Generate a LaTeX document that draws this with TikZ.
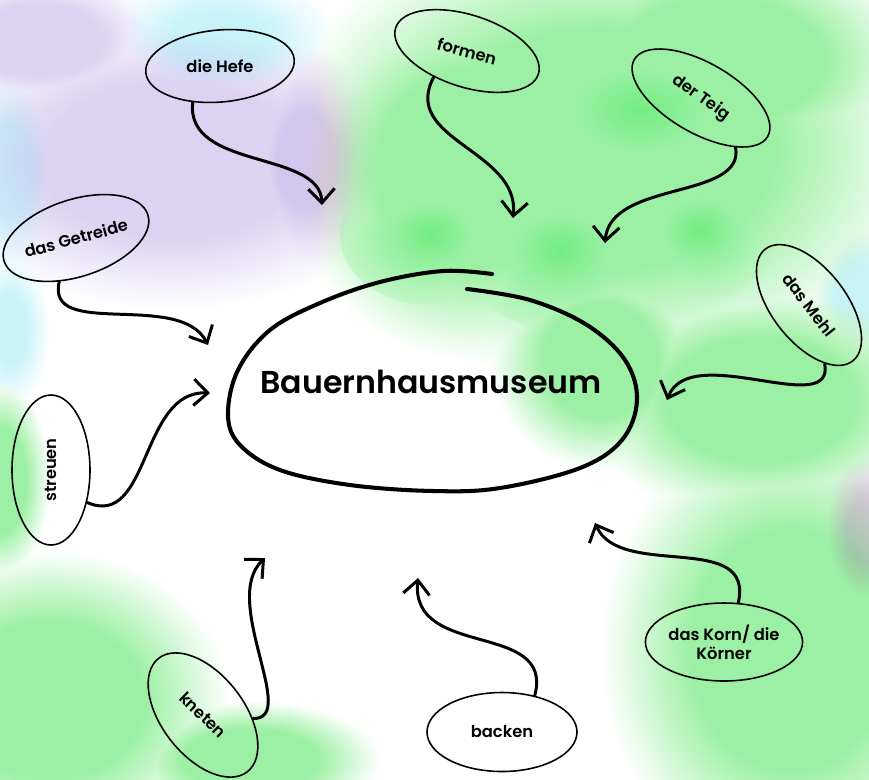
\documentclass[tikz,border=0pt]{standalone}
\usepackage{fontspec}
\setmainfont{Poppins}[UprightFont=* Medium,BoldFont=* SemiBold]
\usetikzlibrary{shapes.geometric,arrows.meta}

\definecolor{washgreen}{HTML}{9CF0A3}
\definecolor{deepgreen}{HTML}{74EC82}
\definecolor{washlilac}{HTML}{DCD3F2}
\definecolor{darklilac}{HTML}{D2C7EE}
\definecolor{washcyan}{HTML}{C8F3F8}

% flat centre, soft rim
\pgfdeclareradialshading{greenwash}{\pgfpoint{0bp}{0bp}}{color(0bp)=(washgreen); color(13bp)=(washgreen); color(25bp)=(white); color(50bp)=(white)}
\pgfdeclareradialshading{deepwash}{\pgfpoint{0bp}{0bp}}{color(0bp)=(deepgreen); color(25bp)=(washgreen!60!white); color(50bp)=(white)}
\pgfdeclareradialshading{lilacwash}{\pgfpoint{0bp}{0bp}}{color(0bp)=(washlilac); color(13bp)=(washlilac); color(25bp)=(white); color(50bp)=(white)}
\pgfdeclareradialshading{darklilacwash}{\pgfpoint{0bp}{0bp}}{color(0bp)=(darklilac); color(10bp)=(darklilac); color(25bp)=(white); color(50bp)=(white)}
\pgfdeclareradialshading{cyanwash}{\pgfpoint{0bp}{0bp}}{color(0bp)=(washcyan); color(10bp)=(washcyan); color(25bp)=(white); color(50bp)=(white)}

\tikzset{
  word/.style={ellipse, draw=black, line width=0.9pt, inner sep=0pt,
    font=\fontsize{9.3}{10.8}\selectfont\bfseries, align=center},
  px size/.style 2 args={minimum width=#1*0.02cm, minimum height=#2*0.02cm},
  link/.style={line width=1.7pt, line cap=round,
    -{Straight Barb[length=8pt,width=15pt,line width=1.7pt]}},
  wash/.style={shading=#1, blend mode=darken},
}

\begin{document}
\begin{tikzpicture}[x=0.02cm,y=-0.02cm]
\useasboundingbox (0,0) rectangle (869,779);
\fill[white] (0,0) rectangle (869,779);

% watercolour background
\shade[wash=lilacwash] (170,160) ellipse [x radius=250, y radius=150];
\shade[wash=lilacwash] (40,40) ellipse [x radius=120, y radius=70];
\shade[wash=darklilacwash] (305,160) ellipse [x radius=70, y radius=120];
\shade[wash=cyanwash] (220,40) ellipse [x radius=120, y radius=70];
\shade[wash=cyanwash] (10,170) ellipse [x radius=60, y radius=110];
\shade[wash=cyanwash] (10,330) ellipse [x radius=40, y radius=80];
\shade[wash=greenwash] (600,150) ellipse [x radius=330, y radius=230];
\shade[wash=greenwash] (720,60) ellipse [x radius=200, y radius=120];
\shade[wash=greenwash] (470,170) ellipse [x radius=180, y radius=190];
\shade[wash=greenwash] (600,360) ellipse [x radius=110, y radius=110];
\shade[wash=greenwash] (760,400) ellipse [x radius=180, y radius=120];
\shade[wash=greenwash] (790,650) ellipse [x radius=190, y radius=230];
\shade[wash=greenwash] (50,700) ellipse [x radius=180, y radius=150];
\shade[wash=greenwash] (250,760) ellipse [x radius=130, y radius=60];
\shade[wash=greenwash] (0,480) ellipse [x radius=50, y radius=100];
\shade[wash=deepwash] (430,235) ellipse [x radius=90, y radius=70];
\shade[wash=deepwash] (640,110) ellipse [x radius=140, y radius=90];
\shade[wash=deepwash] (560,250) ellipse [x radius=100, y radius=80];
\shade[wash=deepwash] (700,230) ellipse [x radius=80, y radius=70];
\shade[wash=darklilacwash] (865,530) ellipse [x radius=45, y radius=80];
\shade[wash=cyanwash] (855,300) ellipse [x radius=50, y radius=100];

% centre
\node[font=\fontsize{18}{22}\selectfont\bfseries] (museum) at (431,382) {Bauernhausmuseum};
\draw[line width=2.3pt, line cap=round] plot[smooth, tension=0.6] coordinates {
  (467,289) (530,300) (587,325) (625,360) (637,400) (622,440) (580,468)
  (500,488) (433,491) (350,485) (280,470) (240,445) (228,415) (238,370)
  (270,330) (320,303) (380,282) (443,271) (492,274)};

% words round it
\node[word, px size={149}{72}, rotate=5] (hefe) at (220,66) {\rotatebox{-5}{die Hefe}};
\node[word, px size={150}{72}, rotate=-18] (formen) at (467,51) {\rotatebox{3}{formen}};
\node[word, px size={154}{70}, rotate=-30] (teig) at (701,98) {\rotatebox{-5}{der Teig}};
\node[word, px size={147}{77}, rotate=18] (getreide) at (76,238) {\rotatebox{-3}{das Getreide}};
\node[word, px size={150}{78}, rotate=90] (streuen) at (51,470) {streuen};
\node[word, px size={142}{74}, rotate=-52] (mehl) at (809,305) {das Mehl};
\node[word, px size={150}{78}] (korn) at (724,642) {das Korn/ die\\Körner};
\node[word, px size={150}{79}] (backen) at (502,732) {backen};
\node[word, px size={144}{82}, rotate=-52] (kneten) at (203,715) {\rotatebox{8}{kneten}};

% arrow tips
\coordinate (hefetip) at (322,205);
\coordinate (formentip) at (513,218);
\coordinate (teigtip) at (605,243);
\coordinate (getreidetip) at (208,345);
\coordinate (streuentip) at (210,393);
\coordinate (mehltip) at (667,400);
\coordinate (korntip) at (595,523);
\coordinate (backentip) at (418,578);
\coordinate (knetentip) at (265,558);

\draw[link] (hefe.228) .. controls (185,170) and (320,150) .. (hefetip);
\draw[link] (formen.236) .. controls (400,140) and (520,150) .. (formentip);
\draw[link] (teig.335) .. controls (745,200) and (610,180) .. (teigtip);
\draw[link] (getreide.231) .. controls (45,340) and (180,290) .. (getreidetip);
\draw[link] (streuen.228) .. controls (150,530) and (140,390) .. (streuentip);
\draw[link] (mehl.337) .. controls (835,420) and (690,340) .. (mehltip);
\draw[link] (korn.70) .. controls (755,530) and (620,580) .. (korntip);
\draw[link] (backen.48) .. controls (555,620) and (410,660) .. (backentip);
\draw[link] (kneten.48) .. controls (300,720) and (220,600) .. (knetentip);
\end{tikzpicture}
\end{document}
